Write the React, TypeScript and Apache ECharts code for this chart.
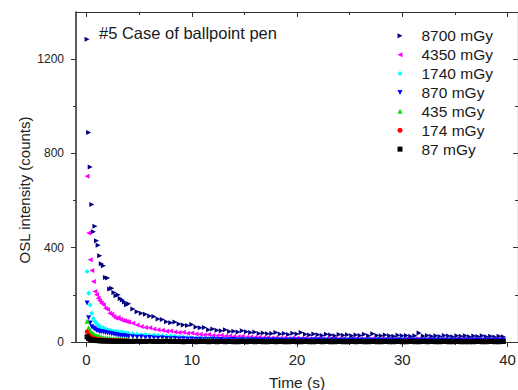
import React, { useEffect, useRef } from "react";
import * as echarts from "echarts";

// Time (s)
const T = [
  0.05, 0.2, 0.35, 0.5, 0.65, 0.8, 0.95, 1.1, 1.25, 1.4, 1.6, 1.8, 2.0, 2.2, 2.4, 2.6, 2.8, 3.0, 3.2, 3.4, 3.6, 3.8, 4.0,
  4.4, 4.8, 5.2, 5.6, 6.0, 6.4, 6.8, 7.2, 7.6, 8.0,
  8.4, 8.8, 9.2, 9.6, 10.0, 10.4, 10.8, 11.2, 11.6, 12.0,
  12.4, 12.8, 13.2, 13.6, 14.0, 14.4, 14.8, 15.2, 15.6, 16.0,
  16.4, 16.8, 17.2, 17.6, 18.0, 18.4, 18.8, 19.2, 19.6, 20.0,
  20.4, 20.8, 21.2, 21.6, 22.0, 22.4, 22.8, 23.2, 23.6, 24.0,
  24.4, 24.8, 25.2, 25.6, 26.0, 26.4, 26.8, 27.2, 27.6, 28.0,
  28.4, 28.8, 29.2, 29.6, 30.0, 30.4, 30.8, 31.2, 31.6, 32.0,
  32.4, 32.8, 33.2, 33.6, 34.0, 34.4, 34.8, 35.2, 35.6, 36.0,
  36.4, 36.8, 37.2, 37.6, 38.0, 38.4, 38.8, 39.2, 39.6,
];

const D8700 = [
  1284, 889, 742, 583, 468, 491, 430, 410, 366, 332, 323, 274, 272, 225, 228, 210, 196, 200, 185, 178, 170, 158, 162,
  140, 128, 122, 118, 110, 108, 98, 95, 86, 82,
  85, 76, 72, 70, 74, 64, 60, 62, 52, 55,
  50, 48, 52, 45, 46, 42, 48, 44, 40, 42,
  36, 38, 35, 36, 40, 34, 36, 32, 37, 34,
  40, 33, 30, 34, 31, 28, 33, 30, 27, 32,
  29, 31, 27, 30, 28, 33, 26, 35, 28, 26,
  30, 27, 24, 29, 26, 28, 24, 27, 38, 25,
  28, 24, 26, 23, 28, 25, 22, 26, 24, 27,
  22, 25, 23, 26, 22, 24, 21, 24, 22,
];

const D4350 = [
  703, 462, 349, 303, 257, 214, 200, 186, 175, 165, 158, 143, 138, 122, 118, 108, 101, 104, 96, 92, 90, 87, 85,
  80, 72, 66, 62, 60, 55, 52, 50, 46, 47,
  42, 40, 41, 37, 38, 34, 33, 30, 32, 28,
  27, 29, 24, 25, 23, 22, 24, 20, 21, 19,
  20, 18, 19, 17, 18, 16, 17, 15, 18, 16,
  15, 17, 14, 16, 15, 13, 15, 14, 16, 13,
  14, 12, 15, 13, 14, 12, 13, 15, 12, 13,
  11, 14, 12, 13, 11, 13, 12, 14, 11, 12,
  13, 11, 12, 14, 11, 12, 10, 13, 11, 12,
  10, 13, 11, 12, 10, 12, 11, 12, 10,
];

const D1740 = [
  299, 207, 157, 122, 100, 87, 80, 72, 66, 62, 60, 55, 52, 50, 48, 45, 46, 42, 40, 42, 38, 37, 36,
  35, 33, 31, 32, 29, 30, 28, 27, 25, 26,
  24, 22, 21, 20, 18, 17, 16, 17, 15, 16,
  14, 15, 13, 14, 12, 13, 12, 13, 11, 12,
  12, 11, 13, 10, 12, 11, 10, 12, 11, 10,
  11, 10, 12, 9, 11, 10, 12, 10, 9, 11,
  10, 12, 9, 11, 10, 9, 11, 10, 12, 9,
  10, 11, 9, 10, 12, 9, 10, 11, 9, 10,
  11, 9, 10, 12, 9, 10, 11, 9, 10, 11,
  9, 10, 11, 9, 10, 9, 11, 10, 9,
];

const D870 = [
  165, 103, 81, 65, 59, 55, 50, 48, 45, 44, 42, 40, 38, 37, 35, 33, 32, 30, 28, 27, 26, 24, 23,
  22, 20, 21, 18, 19, 17, 16, 17, 15, 14,
  15, 13, 14, 12, 13, 11, 12, 10, 11, 12,
  10, 11, 9, 10, 11, 9, 10, 8, 9, 10,
  9, 8, 10, 9, 8, 9, 7, 9, 8, 9,
  8, 9, 7, 8, 9, 8, 7, 9, 8, 7,
  8, 7, 9, 8, 7, 8, 9, 7, 8, 7,
  9, 8, 7, 8, 7, 9, 8, 7, 8, 9,
  7, 8, 9, 7, 8, 7, 8, 9, 7, 8,
  8, 7, 8, 7, 9, 7, 8, 7, 8,
];

const D435 = [
  88, 60, 48, 40, 35, 30, 27, 25, 22, 21, 19, 18, 17, 16, 15, 14, 14, 13, 12, 12, 11, 11, 10,
  10, 9, 10, 8, 9, 8, 7, 8, 7, 8,
  7, 6, 7, 6, 7, 6, 5, 6, 7, 5,
  6, 5, 6, 5, 6, 5, 4, 6, 5, 5,
  5, 4, 5, 6, 4, 5, 4, 5, 4, 5,
  4, 5, 4, 5, 4, 4, 5, 4, 5, 4,
  5, 4, 4, 5, 4, 5, 4, 4, 5, 4,
  4, 5, 4, 4, 5, 4, 5, 4, 4, 5,
  4, 4, 5, 4, 5, 4, 4, 5, 4, 4,
  5, 4, 4, 5, 4, 4, 5, 4, 4,
];

const D174 = [
  44, 32, 25, 20, 17, 15, 13, 12, 11, 10, 9, 9, 8, 8, 7, 7, 6, 7, 6, 6, 5, 6, 5,
  5, 4, 5, 4, 5, 4, 4, 5, 4, 3,
  4, 3, 4, 3, 4, 3, 3, 4, 3, 3,
  3, 4, 3, 3, 4, 3, 3, 2, 3, 3,
  3, 2, 3, 3, 2, 3, 3, 2, 3, 2,
  3, 2, 3, 2, 3, 3, 2, 3, 2, 3,
  2, 3, 2, 3, 2, 3, 2, 2, 3, 2,
  3, 2, 2, 3, 2, 3, 2, 3, 2, 2,
  2, 3, 2, 2, 3, 2, 3, 2, 2, 3,
  2, 2, 3, 2, 3, 2, 2, 3, 2,
];

const D87 = [
  22, 15, 11, 9, 8, 7, 6, 6, 5, 5, 4, 4, 4, 4, 3, 3, 3, 3, 3, 3, 2, 3, 2,
  2, 3, 2, 2, 3, 2, 2, 2, 3, 2,
  2, 2, 1, 2, 2, 1, 2, 2, 1, 2,
  1, 2, 1, 2, 1, 1, 2, 1, 2, 1,
  2, 1, 1, 2, 1, 2, 1, 1, 2, 1,
  1, 2, 1, 1, 2, 1, 2, 1, 1, 2,
  1, 1, 2, 1, 2, 1, 1, 2, 1, 1,
  2, 1, 1, 2, 1, 1, 2, 1, 1, 2,
  1, 2, 1, 1, 2, 1, 1, 2, 1, 1,
  1, 1, 2, 1, 1, 2, 1, 1, 2,
];

const NAMES = ["8700 mGy", "4350 mGy", "1740 mGy", "870 mGy", "435 mGy", "174 mGy", "87 mGy"];
const VALUES = [D8700, D4350, D1740, D870, D435, D174, D87];
const COLORS = ["#000080", "#ff00ff", "#00ffff", "#0000ff", "#00e000", "#ff0000", "#000000"];
const SYMBOLS = [
  "path://M0,0L10,5L0,10Z",
  "path://M10,0L0,5L10,10Z",
  "diamond",
  "path://M0,0L10,0L5,10Z",
  "triangle",
  "circle",
  "rect",
];

const X_MAJOR = [0, 10, 20, 30, 40];
const X_MINOR = [5, 15, 25, 35];
const Y_MAJOR = [0, 400, 800, 1200];
const Y_MINOR = [200, 600, 1000];

const FONT = "'Liberation Sans', Arial, sans-serif";
const AXIS_COLOR = "#333333";

export default function App() {
  const ref = useRef<HTMLDivElement>(null);

  useEffect(() => {
    const chart = echarts.init(ref.current!, null, { renderer: "svg", width: 518, height: 390 });

    const xBase = (position: string, ticks: number[], len: number, inside: boolean, line: boolean, labels: boolean, lw: number) => ({
      type: "value",
      gridIndex: 0,
      position,
      min: -1,
      max: 41,
      splitLine: { show: false },
      axisLine: { show: line, onZero: false, lineStyle: { color: AXIS_COLOR, width: lw } },
      axisTick: { show: true, inside, length: len, customValues: ticks, lineStyle: { color: AXIS_COLOR, width: 1 } },
      axisLabel: {
        show: labels,
        customValues: ticks,
        formatter: (v: number) => String(v),
        fontSize: 15,
        fontFamily: FONT,
        color: "#222",
        margin: 10,
      },
    });

    const yBase = (position: string, ticks: number[], len: number, inside: boolean, line: boolean, labels: boolean, lw: number) => ({
      type: "value",
      gridIndex: 0,
      position,
      min: 0,
      max: 1400,
      splitLine: { show: false },
      axisLine: { show: line, onZero: false, lineStyle: { color: AXIS_COLOR, width: lw } },
      axisTick: { show: true, inside, length: len, customValues: ticks, lineStyle: { color: AXIS_COLOR, width: 1 } },
      axisLabel: {
        show: labels,
        customValues: ticks,
        formatter: (v: number) => String(v),
        fontSize: 12,
        fontFamily: FONT,
        color: "#222",
        margin: 12,
      },
    });

    const xMain: any = xBase("bottom", X_MAJOR, 5, false, true, true, 1.2);
    xMain.name = "Time (s)";
    xMain.nameLocation = "middle";
    xMain.nameGap = 32;
    xMain.nameTextStyle = { fontSize: 15.5, fontFamily: FONT, color: "#222" };

    const option: any = {
      animation: false,
      backgroundColor: "#ffffff",
      textStyle: { fontFamily: FONT },
      grid: { left: 76, right: 0, top: 12, bottom: 48, containLabel: false, outerBoundsMode: "none" },
      xAxis: [
        xMain,
        xBase("bottom", X_MINOR, 3, false, false, false, 1),
        xBase("top", X_MAJOR, 5, true, true, false, 1.2),
        xBase("top", X_MINOR, 3, true, false, false, 1),
      ],
      yAxis: [
        yBase("left", Y_MAJOR, 5, false, true, true, 1.6),
        yBase("left", Y_MINOR, 3, false, false, false, 1),
        yBase("right", Y_MAJOR, 5, true, true, false, 1.2),
        yBase("right", Y_MINOR, 3, true, false, false, 1),
      ],
      legend: {
        orient: "vertical",
        left: 397.5,
        top: 26.3,
        itemWidth: 5,
        itemHeight: 5,
        itemGap: 0,
        padding: 0,
        itemStyle: { borderWidth: 0 },
        data: NAMES,
        textStyle: {
          fontSize: 15.5,
          fontFamily: FONT,
          color: "#1a1a1a",
          lineHeight: 18.9,
          padding: [0, 0, 0, 14],
        },
      },
      graphic: [
        {
          type: "text",
          left: 99,
          top: 24,
          style: { text: "#5 Case of ballpoint pen", fontSize: 16.5, fontFamily: FONT, fill: "#1a1a1a" },
        },
        {
          type: "text",
          x: 24,
          y: 190,
          rotation: Math.PI / 2,
          style: {
            text: "OSL intensity (counts)",
            fontSize: 15,
            fontFamily: FONT,
            fill: "#222",
            align: "center",
            verticalAlign: "middle",
          },
        },
      ],
      series: NAMES.map((name, k) => ({
        name,
        type: "scatter",
        xAxisIndex: 0,
        yAxisIndex: 0,
        symbol: SYMBOLS[k],
        symbolSize: k === 5 ? 4.5 : 5,
        itemStyle: { color: COLORS[k], opacity: 1, borderWidth: 0 },
        data: T.map((t, i) => [t, VALUES[k][i]]),
      })),
    };

    chart.setOption(option);
    return () => chart.dispose();
  }, []);

  return (
    <div
      ref={ref}
      style={{ position: "fixed", left: 0, top: 0, width: 518, height: 390, background: "#fff" }}
    />
  );
}
